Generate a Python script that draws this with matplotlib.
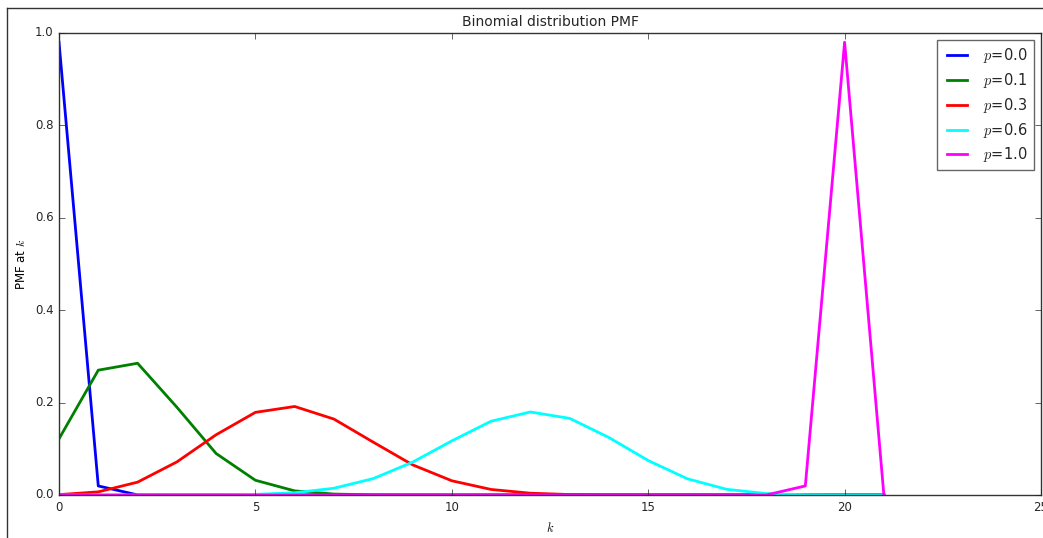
import matplotlib
matplotlib.use("Agg")
import matplotlib.pyplot as plt
from matplotlib.lines import Line2D

plt.style.use('classic')
plt.rcParams['figure.facecolor'] = 'white'
plt.rcParams['mathtext.fontset'] = 'cm'
plt.rcParams['text.color'] = '#262626'
plt.rcParams['xtick.color'] = '#262626'
plt.rcParams['ytick.color'] = '#262626'

k = list(range(22))
labels = ['0.0', '0.1', '0.3', '0.6', '1.0']
colors = ['#0000ff', '#008000', '#ff0000', '#00ffff', '#ff00ff']

pmf_p00 = [0.980, 0.0196, 0.0002] + [0.0] * 19
pmf_p01 = [0.1216, 0.2702, 0.2852, 0.1901, 0.0898, 0.0319, 0.0089, 0.0020,
           0.0004, 0.0001] + [0.0] * 12
pmf_p03 = [0.0008, 0.0068, 0.0278, 0.0716, 0.1304, 0.1789, 0.1916, 0.1643,
           0.1144, 0.0654, 0.0308, 0.0120, 0.0039, 0.0010, 0.0002] + [0.0] * 7
pmf_p06 = [0.0, 0.0, 0.0, 0.0, 0.0003, 0.0013, 0.0049, 0.0146, 0.0355, 0.0710,
           0.1171, 0.1597, 0.1797, 0.1659, 0.1244, 0.0746, 0.0350, 0.0123,
           0.0031, 0.0005, 0.0, 0.0]
pmf_p10 = [0.0] * 19 + [0.0196, 0.980, 0.0]
pmfs = [pmf_p00, pmf_p01, pmf_p03, pmf_p06, pmf_p10]

fig = plt.figure(figsize=(10.43, 5.38), dpi=100)
ax = fig.add_axes([59 / 1043, 43 / 538, 982 / 1043, 462 / 538])

for pmf, lab, c in zip(pmfs, labels, colors):
    ax.plot(k, pmf, color=c, linewidth=2, label='$p$=' + lab)

ax.set_xlim(0, 25)
ax.set_ylim(0, 1.0)
ax.tick_params(labelsize=8.5)
for sp in ax.spines.values():
    sp.set_color('#333333')
ax.set_title('Binomial distribution PMF', fontsize=10)
ax.set_xlabel('$k$', fontsize=9)
ax.set_ylabel('PMF at $k$', fontsize=8.5)
leg = ax.legend(loc='upper right', fontsize=10.5, handlelength=2.0, labelspacing=0.4)
leg.get_frame().set_edgecolor('#666666')

# outer frame of the screenshot
fig.add_artist(Line2D([7 / 1043, 7 / 1043], [0, 1 - 8 / 538], transform=fig.transFigure,
                      color='#333333', linewidth=1))
fig.add_artist(Line2D([7 / 1043, 1], [1 - 8 / 538, 1 - 8 / 538], transform=fig.transFigure,
                      color='#333333', linewidth=1))

fig.savefig('out.png', dpi=100)
